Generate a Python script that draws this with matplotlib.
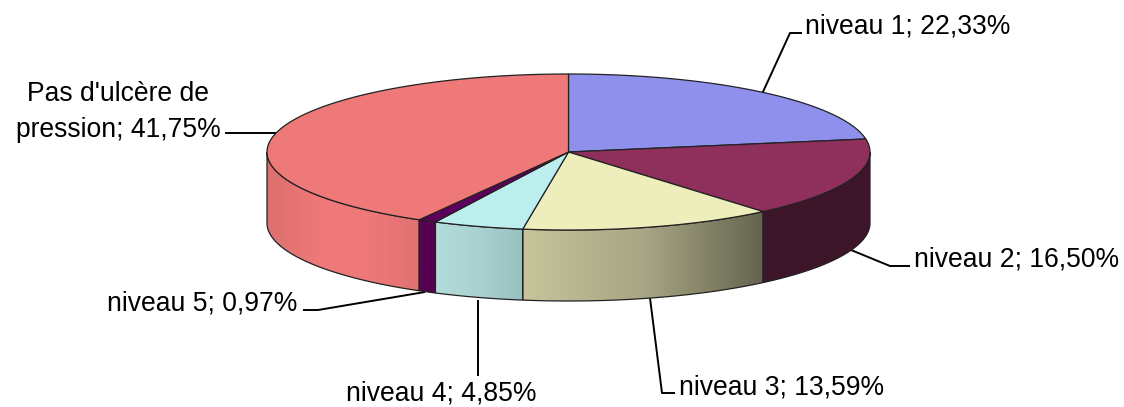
import numpy as np
import matplotlib
matplotlib.use('Agg')
import matplotlib.pyplot as plt
from matplotlib.patches import Polygon
from matplotlib.colors import LinearSegmentedColormap

plt.rcParams['font.family'] = ['Liberation Sans', 'DejaVu Sans']

# values, clockwise from the top of the pie
niveaux = ['niveau 1', 'niveau 2', 'niveau 3', 'niveau 4', 'niveau 5', "Pas d'ulcère de\npression"]
valeurs = [22.33, 16.50, 13.59, 4.85, 0.97, 41.75]
couleurs = ['#8f90ec', '#8f2f5c', '#eeeebd', '#bdeeee', '#5c005c', '#ef7878']
# side shading, left to right across each slice
cotes = [
    ['#8f90ec', '#8f90ec'],
    ['#3e1529', '#3e152a'],
    ['#c6c49a', '#a8a684', '#64644e'],
    ['#b4dcda', '#aad2d0', '#98c0c0'],
    ['#560052', '#560052'],
    ['#dd7070', '#ef7878', '#ef7878', '#e07272'],
]

cx, cy = 568.5, 152
rx, ry = 301.5, 78
h = 71


def arc(a1, a2, dy=0):
    t = np.radians(np.linspace(a1, a2, max(int(abs(a2 - a1) * 3), 2)))
    return np.column_stack([cx + rx * np.sin(t), cy + dy - ry * np.cos(t)])


fig = plt.figure(figsize=(11.24, 4.07), dpi=100)
ax = fig.add_axes([0, 0, 1, 1])

bords = np.concatenate([[0], np.cumsum(valeurs)]) / sum(valeurs) * 360

# side of the pie, only the front half shows
for i in range(len(valeurs)):
    a1, a2 = max(bords[i], 90), min(bords[i + 1], 270)
    if a1 >= a2:
        continue
    haut = arc(a1, a2)
    bas = arc(a1, a2, h)
    pts = np.vstack([haut, bas[::-1]])
    x0, x1 = pts[:, 0].min(), pts[:, 0].max()
    cmap = LinearSegmentedColormap.from_list('c%d' % i, cotes[i])
    im = ax.imshow(np.linspace(0, 1, 256).reshape(1, -1), cmap=cmap, aspect='auto',
                   extent=[x0, x1, pts[:, 1].max(), pts[:, 1].min()], zorder=2)
    clip = Polygon(pts, closed=True, facecolor='none', edgecolor='#222222', lw=0.9, zorder=3)
    ax.add_patch(clip)
    im.set_clip_path(clip)

# top of the pie
for i in range(len(valeurs)):
    pts = np.vstack([[cx, cy], arc(bords[i], bords[i + 1])])
    ax.add_patch(Polygon(pts, closed=True, facecolor=couleurs[i], edgecolor='#222222', lw=0.9, zorder=4))

# leader lines
lignes = [
    ([762, 790, 802], [94, 33, 33]),
    ([851, 890, 910], [250, 266, 266]),
    ([650, 662, 675], [298, 393, 393]),
    ([478, 478], [300, 376]),
    ([425, 318, 303], [292, 310, 310]),
    ([278, 225], [133, 133]),
]
for lx, ly in lignes:
    ax.plot(lx, ly, color='black', lw=1.4, zorder=1, solid_capstyle='butt')

# labels
etiquettes = ['%s; %s%%' % (n, ('%.2f' % v).replace('.', ',')) for n, v in zip(niveaux, valeurs)]
pos = [
    (805, 26.5, 'left'),
    (914, 259, 'left'),
    (679, 387, 'left'),
    (346, 393.5, 'left'),
    (107, 303, 'left'),
    (118, 112, 'center'),
]
for txt, (x, y, ha) in zip(etiquettes, pos):
    ax.text(x, y, txt, fontsize=19.1, ha=ha, va='center', color='black', linespacing=1.5, zorder=5)

ax.set_xlim(0, 1124)
ax.set_ylim(407, 0)
ax.axis('off')
fig.savefig('out.png', dpi=100)
